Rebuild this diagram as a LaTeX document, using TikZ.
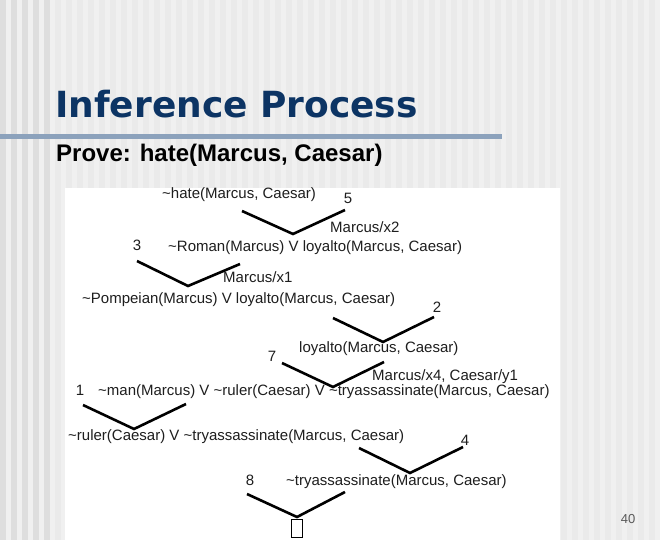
\documentclass[tikz,border=0pt]{standalone}
\usepackage{fontspec}
\setmainfont{Liberation Sans}
\newfontfamily\titlefont{DejaVu Sans}
\usepackage{tikz}
\usetikzlibrary{positioning}

\definecolor{titleblue}{RGB}{12,52,100}
\definecolor{rulegray}{RGB}{140,162,188}
\definecolor{slidebg}{RGB}{240,240,240}
\definecolor{stripedark}{RGB}{222,222,222}
\definecolor{stripelight}{RGB}{234,234,234}
\definecolor{ink}{RGB}{30,30,30}
\newcommand{\tld}{\char"007E}

\begin{document}
\begin{tikzpicture}[
  x=1pt,y=-1pt,
  clause/.style={anchor=west, inner sep=0pt, text=ink, font=\fontsize{15}{17}\selectfont},
  num/.style={clause, anchor=center},
  arm/.style={line width=2.6pt, line join=miter},
]
\useasboundingbox (0,0) rectangle (660,540);

% slide background: plain grey with vertical stripes, white panel for the tree
\fill[slidebg] (0,0) rectangle (660,540);
\foreach \x in {0,11,...,44} \fill[stripedark] (\x,0) rectangle ++(5.5,540);
\foreach \x in {55,66,...,649} \fill[stripelight] (\x,0) rectangle ++(5.5,540);
\fill[rulegray] (0,134.5) rectangle (502,139.5);
\fill[white] (65,188) rectangle (560,540);

% heading
\node[anchor=base west, inner sep=0pt, text=titleblue, font=\titlefont\bfseries\fontsize{36}{40}\selectfont] (title) at (55,118) {Inference Process};
\node[anchor=base west, inner sep=0pt, font=\bfseries\fontsize{24}{27}\selectfont] (goal) at (56,161) {Prove: hate(Marcus, Caesar)};

% clauses of the resolution tree
\node[clause] (hate) at (162,195) {\tld hate(Marcus, Caesar)};
\node[num] (n5) at (348,198) {5};
\node[clause] (mx2) at (330,227) {Marcus/x2};
\node[num] (n3) at (137,245) {3};
\node[clause] (roman) at (168,248) {\tld Roman(Marcus) V loyalto(Marcus, Caesar)};
\node[clause] (mx1) at (223,277) {Marcus/x1};
\node[clause] (pomp) at (82,300) {\tld Pompeian(Marcus) V loyalto(Marcus, Caesar)};
\node[num] (n2) at (437,307) {2};
\node[clause] (loyal) at (299,349) {loyalto(Marcus, Caesar)};
\node[num] (n7) at (272,356) {7};
\node[clause] (mx4) at (372,377) {Marcus/x4, Caesar/y1};
\node[num] (n1) at (80,390) {1};
\node[clause] (man) at (98,392) {\tld man(Marcus) V \tld ruler(Caesar) V \tld tryassassinate(Marcus, Caesar)};
\node[clause] (ruler) at (68,437) {\tld ruler(Caesar) V \tld tryassassinate(Marcus, Caesar)};
\node[num] (n4) at (465,440) {4};
\node[num] (n8) at (250,480) {8};
\node[clause] (try) at (286,482) {\tld tryassassinate(Marcus, Caesar)};
\node[draw, line width=0.8pt, minimum width=11pt, minimum height=18pt, inner sep=0pt] (empty) at (297,528) {};

% resolution steps
\coordinate (l1) at (242,211); \coordinate (v1) at (293,234); \coordinate (r1) at (345,210);
\coordinate (l2) at (137,261); \coordinate (v2) at (188,286); \coordinate (r2) at (240,264);
\coordinate (l3) at (333,318); \coordinate (v3) at (383,342); \coordinate (r3) at (434,317);
\coordinate (l4) at (282,363); \coordinate (v4) at (333,387); \coordinate (r4) at (384,362);
\coordinate (l5) at (83,405);  \coordinate (v5) at (134,429); \coordinate (r5) at (186,404);
\coordinate (l6) at (359,448); \coordinate (v6) at (410,473); \coordinate (r6) at (463,447);
\coordinate (l7) at (247,494); \coordinate (v7) at (297,517); \coordinate (r7) at (345,492);
\foreach \i in {1,...,7} \draw[arm] (l\i) -- (v\i) -- (r\i);

\node[inner sep=0pt, text=black!65, font=\fontsize{13}{15}\selectfont] (page) at (628,519) {40};
\end{tikzpicture}
\end{document}
